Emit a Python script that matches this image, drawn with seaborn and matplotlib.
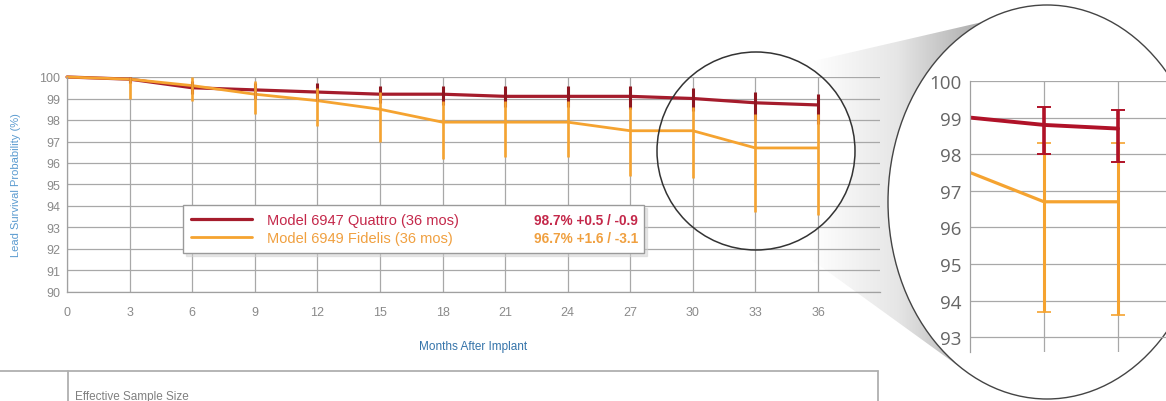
import numpy as np
import pandas as pd
import seaborn as sns
import matplotlib.pyplot as plt
from matplotlib.patches import Ellipse, Polygon
from matplotlib.lines import Line2D
from matplotlib.colors import LinearSegmentedColormap

# data
months = [0, 3, 6, 9, 12, 15, 18, 21, 24, 27, 30, 33, 36]
quattro = [100, 99.9, 99.5, 99.4, 99.3, 99.2, 99.2, 99.1, 99.1, 99.1, 99.0, 98.8, 98.7]
quattro_hi = [100, 100, 99.8, 99.7, 99.7, 99.6, 99.6, 99.6, 99.6, 99.6, 99.5, 99.3, 99.2]
quattro_lo = [100, 99.7, 99.2, 99.0, 98.9, 98.8, 98.7, 98.6, 98.6, 98.5, 98.4, 98.0, 97.8]
fidelis = [100, 99.9, 99.6, 99.2, 98.9, 98.5, 97.9, 97.9, 97.9, 97.5, 97.5, 96.7, 96.7]
fidelis_hi = [100, 100, 100, 99.8, 99.5, 99.3, 98.9, 98.9, 98.9, 98.6, 98.6, 98.3, 98.3]
fidelis_lo = [100, 99.0, 98.9, 98.3, 97.7, 97.0, 96.2, 96.3, 96.3, 95.4, 95.3, 93.7, 93.6]
labels = ["Model 6947 Quattro (36 mos)", "Model 6949 Fidelis (36 mos)"]
summaries = ["98.7% +0.5 / -0.9", "96.7% +1.6 / -3.1"]
yticks_main = list(range(90, 101))
yticks_zoom = list(range(93, 101))

RED = "#a51c2c"
RED_TXT = "#c4284a"
ORANGE = "#f5a330"
ORANGE_TXT = "#f0a040"

df = pd.DataFrame({
    "Months": months * 2,
    "Survival": quattro + fidelis,
    "Model": [labels[0]] * len(months) + [labels[1]] * len(months),
})

q = np.array(quattro)
f = np.array(fidelis)
q_err = [q - np.array(quattro_lo), np.array(quattro_hi) - q]
f_err = [f - np.array(fidelis_lo), np.array(fidelis_hi) - f]

sns.set_style("white")
plt.rcParams["font.family"] = ["Liberation Sans", "DejaVu Sans"]

W, H = 1166, 402
fig = plt.figure(figsize=(W / 100, H / 100), dpi=100)

# background layer in pixel coords (zoom wedge)
ax_bg = fig.add_axes([0, 0, 1, 1], zorder=0)
ax_bg.set_xlim(0, W)
ax_bg.set_ylim(H, 0)
ax_bg.axis("off")

cx, cy, cr = 756, 152, 99
ex, ey, ew, eh = 1047, 203, 159, 197
t1 = np.radians(np.linspace(62, -70, 60))
t2 = np.radians(np.linspace(240, 114, 80))
pts = np.vstack([
    np.column_stack([cx + cr * np.cos(t1), cy - cr * np.sin(t1)]),
    np.column_stack([ex + ew * np.cos(t2), ey - eh * np.sin(t2)]),
])
wedge = Polygon(pts, closed=True, facecolor="none", edgecolor="none")
ax_bg.add_patch(wedge)
grad = np.tile(np.linspace(0, 1, 256), (2, 1))
cmap = LinearSegmentedColormap.from_list("g", ["#ffffff", "#e6e6e6", "#a9a9a9"])
im = ax_bg.imshow(grad, extent=[810, 985, H, 0], cmap=cmap, aspect="auto", zorder=1)
im.set_clip_path(wedge)

# table frame at the bottom
ax_bg.plot([0, 878], [372, 372], color="#b0b0b0", lw=1.3)
ax_bg.plot([68, 68], [372, H], color="#b0b0b0", lw=1.3)
ax_bg.plot([878, 878], [372, H], color="#b0b0b0", lw=1.3)
ax_bg.text(75, 391, "Effective Sample Size", fontsize=8.5, color="#808080", va="top")

# main chart
ax = fig.add_axes([67 / W, 1 - 293 / H, (880 - 67) / W, (293 - 78) / H], zorder=1)
ax.set_facecolor("none")
sns.lineplot(data=df, x="Months", y="Survival", hue="Model", palette=[RED, ORANGE],
             ax=ax, legend=False, clip_on=False)
for ln, w in zip(ax.lines, [2.3, 2.0]):
    ln.set_linewidth(w)
ax.errorbar(months, quattro, yerr=q_err, fmt="none", ecolor="#8e1620",
            elinewidth=2.2, capsize=0, zorder=3)
ax.errorbar(months, fidelis, yerr=f_err, fmt="none", ecolor=ORANGE,
            elinewidth=1.9, capsize=0, zorder=4)

ax.set_xlim(0, 36 * (880 - 67) / (818 - 67))
ax.set_ylim(90, 100)
ax.set_xticks(months)
ax.set_yticks(yticks_main)
ax.grid(True, color="#a8a8a8", lw=0.9)
ax.tick_params(length=0, labelsize=9, colors="#8a8a8a")
ax.tick_params(axis="x", pad=10)
ax.tick_params(axis="y", pad=5)
for s in ["top", "right"]:
    ax.spines[s].set_visible(False)
for s in ["left", "bottom"]:
    ax.spines[s].set_color("#a0a0a0")
    ax.spines[s].set_linewidth(0.9)
ax.set_xlabel("Months After Implant", fontsize=8.5, color="#3574aa", labelpad=16)
ax.set_ylabel("Lead Survival Probability (%)", fontsize=8, color="#5b9bd0", labelpad=13)

handles = [Line2D([], [], color=RED, lw=2.3), Line2D([], [], color=ORANGE, lw=2.0)]
leg = ax.legend(handles, labels, loc="center", mode="expand", borderaxespad=0,
                bbox_to_anchor=(0.1427, 0.172, 0.567, 0.242), fontsize=10.5,
                handlelength=4.2, handletextpad=1.0, labelspacing=0.25,
                frameon=True, fancybox=False, edgecolor="#9a9a9a", framealpha=1,
                labelcolor=[RED_TXT, ORANGE_TXT], borderpad=0.55,
                shadow={"ox": 2, "oy": -2, "color": "#d0d0d0"})
leg.get_frame().set_linewidth(1.0)
leg.set_zorder(10)

# summary values aligned with the legend rows
fig.canvas.draw()
inv = ax.transAxes.inverted()
for t, txt, c in zip(leg.get_texts(), summaries, [RED_TXT, ORANGE_TXT]):
    bb = t.get_window_extent()
    yy = inv.transform((0, (bb.y0 + bb.y1) / 2))[1]
    ax.text(0.7023, yy, txt, transform=ax.transAxes, ha="right", va="center",
            fontsize=9.8, fontweight="bold", color=c, zorder=11)

# overlay: circles
ax_top = fig.add_axes([0, 0, 1, 1], zorder=2)
ax_top.set_xlim(0, W)
ax_top.set_ylim(H, 0)
ax_top.axis("off")
ax_top.set_facecolor("none")
ax_top.add_patch(Ellipse((cx, cy), 2 * cr, 2 * cr, facecolor="none", edgecolor="#333333", lw=1.1))
ax_top.add_patch(Ellipse((ex, ey), 2 * ew, 2 * eh, facecolor="white", edgecolor="#444444", lw=1.0))

# zoomed inset (last two time points)
ax_in = fig.add_axes([970 / W, 1 - 353 / H, (W - 970) / W, (353 - 82) / H], zorder=3)
ax_in.set_facecolor("none")
sns.lineplot(data=df, x="Months", y="Survival", hue="Model", palette=["#b01228", ORANGE],
             ax=ax_in, legend=False)
for ln, w in zip(ax_in.lines, [2.8, 2.3]):
    ln.set_linewidth(w)
zi = slice(-2, None)
ax_in.errorbar(months[zi], fidelis[zi], yerr=[e[zi] for e in f_err], fmt="none",
               ecolor=ORANGE, elinewidth=2.2, capsize=5, capthick=1.2, zorder=3)
ax_in.errorbar(months[zi], quattro[zi], yerr=[e[zi] for e in q_err], fmt="none",
               ecolor="#b01228", elinewidth=2.6, capsize=5, capthick=1.4, zorder=4)
ax_in.set_xlim(30, 30 + (W - 970) / 24.67)
ax_in.set_ylim(100 - (353 - 82) / 36.6, 100)
ax_in.set_xticks([33, 36])
ax_in.set_xticklabels([])
ax_in.set_yticks(yticks_zoom)
ax_in.grid(True, color="#a8a8a8", lw=0.9)
ax_in.tick_params(axis="x", length=0)
ax_in.tick_params(axis="y", length=5, width=0.9, color="#a0a0a0", pad=1,
                  labelsize=13.5, labelcolor="#666666")
for lab in ax_in.get_yticklabels():
    lab.set_family(["Open Sans", "DejaVu Sans"])
for s in ["top", "right", "bottom"]:
    ax_in.spines[s].set_visible(False)
ax_in.spines["left"].set_color("#a0a0a0")
ax_in.spines["left"].set_linewidth(0.9)
ax_in.set_xlabel("")
ax_in.set_ylabel("")

fig.savefig("out.png", dpi=100)
